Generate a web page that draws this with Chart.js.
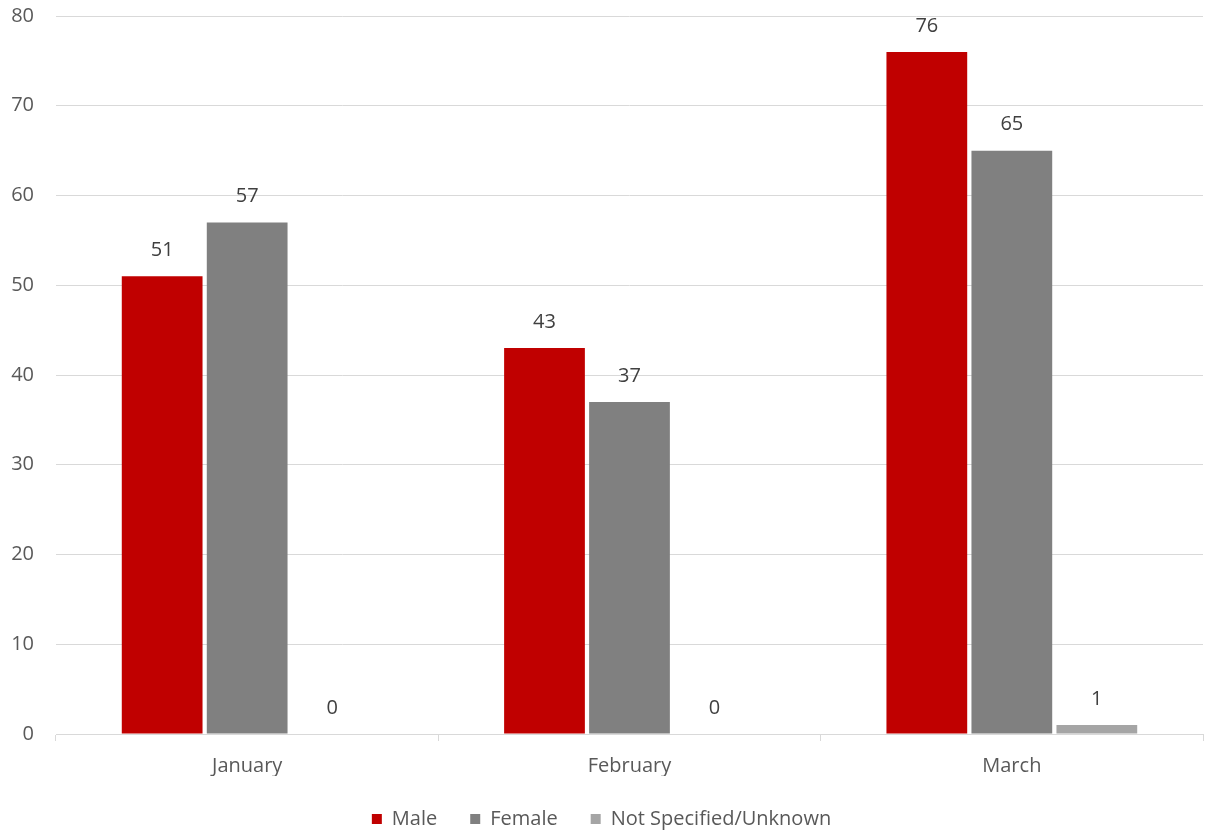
<!DOCTYPE html>
<html>
<head>
<meta charset="utf-8">
<script src="https://cdn.jsdelivr.net/npm/chart.js@4.4.0/dist/chart.umd.min.js"></script>
<style>
    html, body { margin: 0; padding: 0; background: #fff; }
    #wrap { width: 1206px; height: 831px; position: relative; }
</style>
</head>
<body>
<div id="wrap"><canvas id="chart"></canvas></div>
<script>
const months = ['January', 'February', 'March'];
const maleValues = [51, 43, 76];
const femaleValues = [57, 37, 65];
const unknownValues = [0, 0, 1];
const yTicks = [0, 10, 20, 30, 40, 50, 60, 70, 80];

const fontFamily = "'Open Sans', 'Liberation Sans', sans-serif";

// draw the value above each bar
const valueLabels = {
    id: 'valueLabels',
    afterDatasetsDraw(chart) {
        const ctx = chart.ctx;
        ctx.save();
        ctx.font = '20px ' + fontFamily;
        ctx.fillStyle = '#404040';
        ctx.textAlign = 'center';
        ctx.textBaseline = 'middle';
        chart.data.datasets.forEach((ds, i) => {
            const meta = chart.getDatasetMeta(i);
            meta.data.forEach((bar, j) => {
                ctx.fillText(String(ds.data[j]), bar.x, bar.y - 26);
            });
        });
        ctx.restore();
    }
};

const ctx = document.getElementById('chart').getContext('2d');
new Chart(ctx, {
    type: 'bar',
    data: {
        labels: months,
        datasets: [
            { label: 'Male', data: maleValues, backgroundColor: '#C00000' },
            { label: 'Female', data: femaleValues, backgroundColor: '#808080' },
            { label: 'Not Specified/Unknown', data: unknownValues, backgroundColor: '#A5A5A5' }
        ]
    },
    options: {
        responsive: true,
        maintainAspectRatio: false,
        animation: false,
        layout: { padding: { top: 16, right: 3, left: 0, bottom: -8 } },
        datasets: {
            bar: { barPercentage: 0.95, categoryPercentage: 0.667 }
        },
        plugins: {
            legend: {
                position: 'bottom',
                labels: {
                    boxWidth: 10,
                    boxHeight: 10,
                    padding: 33,
                    color: '#595959',
                    font: { family: fontFamily, size: 20 }
                }
            },
            tooltip: { enabled: false }
        },
        scales: {
            x: {
                afterFit(scale) {
                    scale.height -= 15;
                },
                grid: {
                    display: true,
                    drawOnChartArea: false,
                    drawTicks: true,
                    tickLength: 7,
                    color: '#d9d9d9'
                },
                border: { display: true, color: '#d9d9d9', width: 1 },
                ticks: {
                    color: '#595959',
                    padding: 13,
                    font: { family: fontFamily, size: 20 }
                }
            },
            y: {
                min: 0,
                max: 80,
                afterBuildTicks(axis) {
                    axis.ticks = yTicks.map(v => ({ value: v }));
                },
                afterFit(scale) {
                    scale.width = 56;
                    scale.paddingTop = 0;
                    scale.paddingBottom = 0;
                },
                grid: { color: '#d9d9d9', drawTicks: false },
                border: { display: false },
                ticks: {
                    color: '#595959',
                    padding: 22,
                    font: { family: fontFamily, size: 20 }
                }
            }
        }
    },
    plugins: [valueLabels]
});
</script>
</body>
</html>
